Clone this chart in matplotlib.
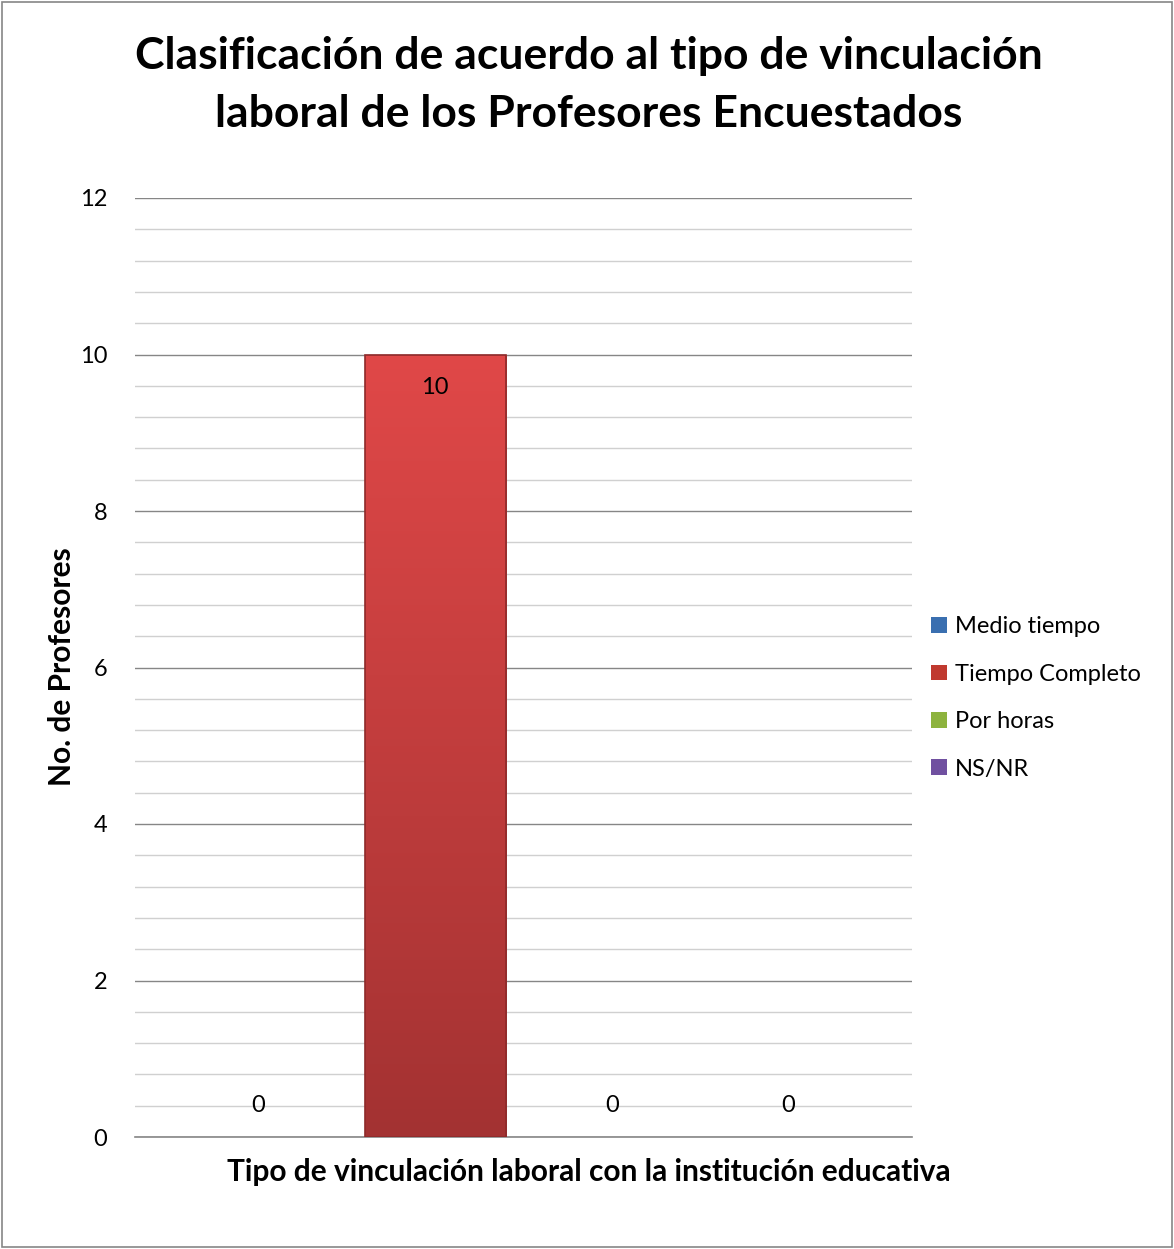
import matplotlib
matplotlib.use("Agg")
import matplotlib.pyplot as plt
import numpy as np
from matplotlib.patches import Rectangle
from matplotlib.colors import LinearSegmentedColormap

####################################################################################
## data

series = ["Medio tiempo", "Tiempo Completo", "Por horas", "NS/NR"]
values = [0, 10, 0, 0]
top_colors = ["#4F81BD", "#E04848", "#9BBB59", "#8064A2"]
bottom_colors = ["#2C5A8F", "#A33232", "#6E8C36", "#5A4480"]
legend_colors = ["#3A6FB0", "#C0392F", "#8DB33E", "#7050A0"]

title = "Clasificación de acuerdo al tipo de vinculación\nlaboral de los Profesores Encuestados"
ylabel = "No. de Profesores"
xlabel = "Tipo de vinculación laboral con la institución educativa"

####################################################################################
## plotting

plt.rcParams['font.family'] = ['Lato', 'DejaVu Sans']

fig = plt.figure(figsize=(11.74, 12.49), dpi=100)
ax = fig.add_axes([135/1174, 1 - 1137/1249, (912-135)/1174, (1137-198)/1249])

x = np.arange(len(series))
bars = ax.bar(x, values, width=0.8, color=top_colors, label=series, zorder=3)

# vertical gradient on each bar
for b, c1, c2 in zip(bars, top_colors, bottom_colors):
    h = b.get_height()
    if h <= 0:
        continue
    cmap = LinearSegmentedColormap.from_list("g", [c2, c1])
    grad = np.linspace(0, 1, 256).reshape(-1, 1)
    x0 = b.get_x()
    w = b.get_width()
    im = ax.imshow(grad, cmap=cmap, aspect="auto", origin="lower",
                   extent=[x0, x0 + w, 0, h], zorder=4)
    im.set_clip_path(b)
    ax.add_patch(Rectangle((x0, 0), w, h, fill=False, edgecolor="#8E2A2A",
                           linewidth=1.2, zorder=5))

# value labels
for xi, v in zip(x, values):
    if v > 0:
        ax.text(xi, v - 0.42, str(v), ha="center", va="center", fontsize=17, zorder=6)
    else:
        ax.text(xi, 0.4, str(v), ha="center", va="center", fontsize=17, zorder=6)

ax.set_xlim(-0.7, 3.7)
ax.set_ylim(0, 12)
ax.set_yticks(np.arange(0, 13, 2))
ax.set_yticks(np.arange(0, 12.01, 0.4), minor=True)
ax.set_xticks([])
ax.grid(True, which="major", axis="y", color="#868686", linewidth=1.0, zorder=0)
ax.grid(True, which="minor", axis="y", color="#D0D0D0", linewidth=1.0, zorder=0)
ax.tick_params(axis="y", which="both", length=0, labelsize=17, pad=20)

for s in ["top", "right", "left"]:
    ax.spines[s].set_visible(False)
ax.spines["bottom"].set_color("#868686")
ax.spines["bottom"].set_linewidth(1.2)

ax.set_ylabel(ylabel, fontsize=21.5, fontweight="bold")
ax.set_xlabel(xlabel, fontsize=21.5, fontweight="bold")
ax.yaxis.set_label_coords((62 - 135) / 777, (1137 - 667) / 939)
ax.xaxis.set_label_coords((589 - 135) / 777, -(1172 - 1137) / 939)
ax.xaxis.label.set_va("center")
ax.yaxis.label.set_va("center")

fig.text(589/1174, 1 - 85/1249, title, ha="center", va="center",
         fontsize=32, fontweight="bold", linespacing=1.52)

handles = [Rectangle((0, 0), 1, 1, facecolor=c, edgecolor="none") for c in legend_colors]
fig.legend(handles, series, loc="center left", bbox_to_anchor=(910/1174, 1 - 698/1249),
           frameon=False, fontsize=17, handlelength=0.65, handleheight=0.65,
           handletextpad=0.35, labelspacing=1.12)

# outer chart border
fig.add_artist(Rectangle((0.002, 0.002), 0.996, 0.996, transform=fig.transFigure,
                         fill=False, edgecolor="#868686", linewidth=1.2))

fig.savefig("out.png", dpi=100)
